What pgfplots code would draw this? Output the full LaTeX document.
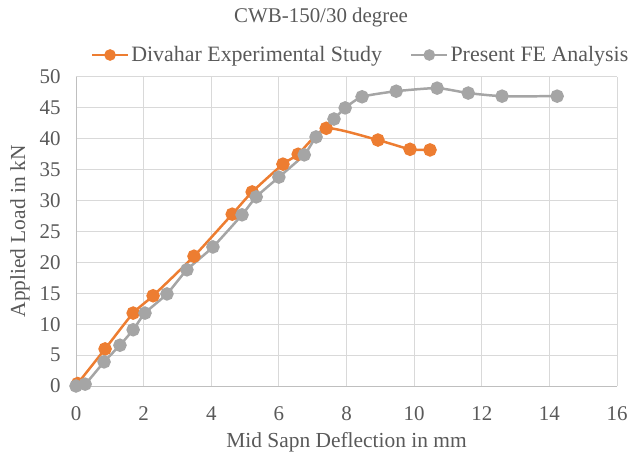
\documentclass[border=0pt]{standalone}
\usepackage{pgfplots}
\pgfplotsset{compat=1.18}
\usepackage{fontspec}
\setmainfont{Liberation Serif}
\definecolor{exporange}{HTML}{ED7D31}
\definecolor{fegray}{HTML}{A5A5A5}
\definecolor{gridc}{HTML}{D9D9D9}
\definecolor{axc}{HTML}{BFBFBF}
\definecolor{txt}{HTML}{595959}
\begin{document}
\begin{tikzpicture}
\begin{axis}[
  scale only axis,
  width=541bp, height=309bp,
  xmin=0, xmax=16, ymin=0, ymax=50,
  xtick={0,2,...,16}, ytick={0,5,...,50},
  grid=major,
  major grid style={gridc, line width=1pt},
  axis line style={draw=axc, line width=1pt},
  axis x line*=bottom, axis y line*=left,
  tick style={draw=none},
  /pgf/number format/assume math mode=true,
  tick label style={font=\fontsize{21}{23}\selectfont, text=txt},
  xticklabel style={anchor=base, yshift=-34bp},
  yticklabel style={anchor=east, xshift=-12bp},
  xlabel={Mid Sapn Deflection in mm},
  ylabel={Applied Load in kN},
  label style={font=\fontsize{21.5}{24}\selectfont, text=txt},
  xlabel style={at={(0.5,-0.181)}, anchor=center},
  ylabel style={at={(-0.1035,0.5)}, anchor=center},
  title={CWB-150/30 degree},
  title style={font=\fontsize{21}{23}\selectfont, text=txt, at={(0.453,1.172)}, anchor=center},
  legend style={at={(0.526,1.0712)}, anchor=center, draw=none, fill=none, legend columns=2,
    font=\fontsize{22}{24}\selectfont, text=txt,
    /tikz/every even column/.append style={column sep=26bp}},
  legend cell align=left,
  legend image code/.code={
    \draw[#1, mark=none] (0bp,0bp) -- (36bp,0bp);
    \fill[#1] (18bp,0bp) circle[radius=4.5bp];
  },
]
\addplot[exporange, line width=2.5pt, smooth, tension=0.35, mark=*, mark size=5.5bp, mark options={fill=exporange, draw=none}]
coordinates {
(0.05,0.4) (0.86,6.0) (1.69,11.8) (2.28,14.6) (3.49,21.0) (4.62,27.8) (5.21,31.4)
(6.12,35.9) (6.57,37.5) (7.40,41.7) (8.93,39.8) (9.88,38.3) (10.47,38.2)
};
\addlegendentry{Divahar Experimental Study}
\addplot[fegray, line width=2.5pt, smooth, tension=0.35, mark=*, mark size=5.5bp, mark options={fill=fegray, draw=none}]
coordinates {
(0,0) (0.27,0.3) (0.83,3.9) (1.30,6.6) (1.69,9.1) (2.04,11.8) (2.69,14.9) (3.28,18.8)
(4.05,22.5) (4.91,27.7) (5.33,30.6) (6.0,33.8) (6.75,37.4) (7.10,40.3) (7.63,43.2)
(7.96,45.0) (8.46,46.8) (9.47,47.7) (10.68,48.2) (11.60,47.4) (12.60,46.9) (14.23,46.9)
};
\addlegendentry{Present FE Analysis}
\end{axis}
\pgfresetboundingbox
\useasboundingbox (-76bp,-70bp) rectangle (552bp,386bp);
\end{tikzpicture}
\end{document}
